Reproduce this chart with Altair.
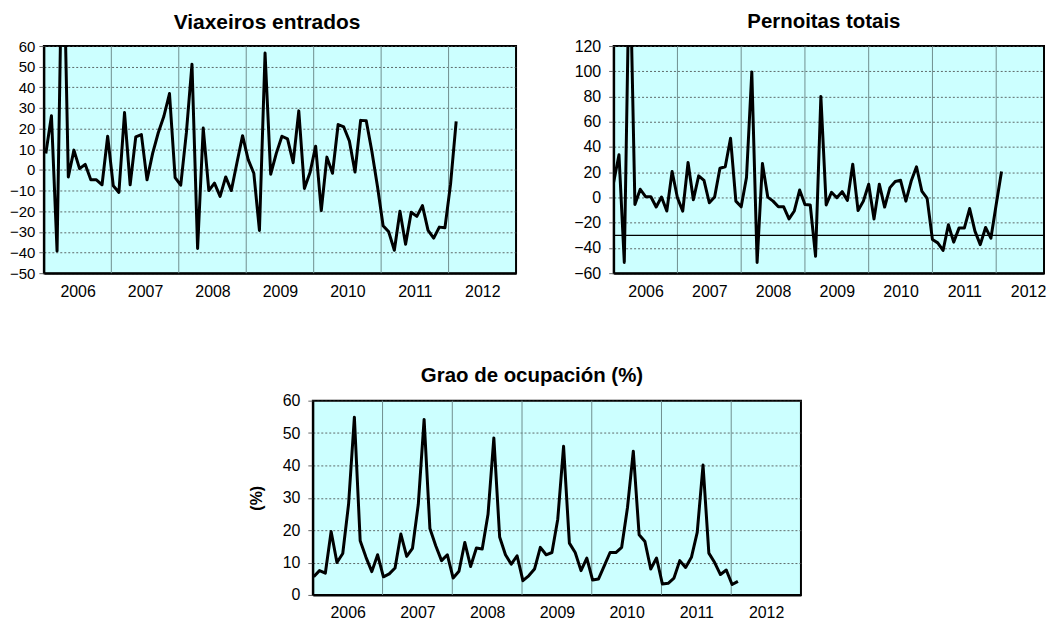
import json
import altair as alt
import pandas as pd

# ---------------- data (monthly, January 2006 - February 2012) ----------------
years = ["2006", "2007", "2008", "2009", "2010", "2011", "2012"]

viaxeiros = [8, 26.2, -39.3, 130, -3.4, 9.6, 0.6, 2.7, -4.8, -4.8, -7.2, 16.3,
             -7.7, -10.9, 27.8, -7.2, 16, 17.1, -4.8, 8, 18, 26, 37, -3.7,
             -7.4, 17.9, 51.2, -38, 20.3, -10, -6.4, -12.8, -3.4, -10, 3.5, 16.6,
             5, -1.6, -29.3, 56.6, -2.1, 8, 16.3, 15, 3.5, 28.6, -9, -1.3,
             11.5, -19.7, 6.2, -1.6, 22, 20.8, 14, -1, 24, 23.8, 9, -8,
             -27, -30, -38.9, -20, -36, -20.5, -22.5, -17.3, -29.3, -33, -27.7, -28,
             -6.9, 23.5]

pernoitas = [12, 33.8, -51.5, 200, -5.5, 6.5, 0.6, 0.6, -7.6, 0.3, -10.8, 20.6,
             -0.2, -10.8, 27.7, -1.8, 17.1, 13.6, -4.2, 0.3, 23.2, 24.3, 46.9, -2.9,
             -7.4, 15.8, 99.5, -51.5, 26.9, 0.3, -2.9, -7.4, -7.4, -17, -10.7, 5.9,
             -5.5, -6, -46.6, 80.1, -6, 4.1, -0.2, 4.6, -2.3, 26.4, -10.4, -2.9,
             10.5, -17, 10.5, -7.6, 7.8, 12.6, 13.6, -2.9, 13, 24.3, 5.1, -0.7,
             -33.4, -36, -42, -21.6, -35.4, -24.3, -24.3, -8.8, -26.7, -37.4, -23.8, -32.3,
             -5.5, 20.6]
pernoitas_ref = [-30]

ocupacion = [5.6, 7.5, 6.7, 19.6, 10, 12.8, 28, 54.9, 16.7, 11.6, 7.2, 12.4,
             5.6, 6.5, 8.3, 18.8, 11.9, 14.4, 28, 54.2, 20.5, 15.2, 10.6, 12.4,
             5.2, 7.3, 16.2, 8.8, 14.5, 14.2, 24.9, 48.5, 17.9, 12.4, 9.5, 12.1,
             4.4, 5.9, 8, 14.7, 12.4, 13.1, 23.4, 45.9, 16, 13.1, 7.5, 11.4,
             4.6, 4.9, 9, 13.1, 13.1, 14.7, 27, 44.4, 18.6, 16.5, 8, 11.4,
             3.4, 3.6, 5.2, 10.6, 8.5, 11.6, 19.3, 40.1, 12.9, 10, 6.3, 7.7,
             3.2, 4.2]

FONT = "Liberation Sans"
month = list(range(len(viaxeiros)))
label_pos = [12 * k + 6 for k in range(len(years))]
year_bounds = [12 * k for k in range(1, len(years))]
label_expr = json.dumps(years) + "[floor(datum.value / 12)]"


def panel(values, title, ydom, ystep, w, h, xmax, title_dx, title_offset,
          title_size=20.5, xoff=0.0, ytitle=None, hlines=None, lab=16,
          ylab=16, ylabpad=8):
    df = pd.DataFrame({"m": [i + xoff for i in month], "v": values})
    xenc = alt.X(
        "m:Q",
        scale=alt.Scale(domain=[0, xmax], nice=False, zero=False),
        axis=alt.Axis(values=[p for p in label_pos if p < xmax], labelExpr=label_expr,
                      grid=False, ticks=False, title=None, labelFontSize=lab,
                      labelPadding=10, domainColor="black", domainWidth=2,
                      labelColor="black", labelFont=FONT, labelFlush=False,
                      labelOverlap=False),
    )
    yaxis_kw = dict(values=list(range(ydom[0], ydom[1] + 1, ystep)), grid=True,
                    gridColor="#444444", gridDash=[2, 2], gridWidth=1, gridOpacity=0.8,
                    ticks=True, tickSize=5, tickColor="#666666", labelFontSize=ylab,
                    labelPadding=ylabpad, labelColor="black", labelFont=FONT,
                    domainColor="black", domainWidth=2, labelFlush=False,
                    labelOverlap=False)
    if ytitle:
        yaxis_kw.update(title=ytitle, titleFontSize=16, titleFont=FONT,
                        titleFontWeight="bold", titleColor="black", titlePadding=18)
    else:
        yaxis_kw.update(title=None)
    yenc = alt.Y("v:Q", scale=alt.Scale(domain=ydom, nice=False, zero=False),
                 axis=alt.Axis(**yaxis_kw))

    rules = alt.Chart(pd.DataFrame({"m": [b for b in year_bounds if b < xmax]})).mark_rule(
        color="#6f8f8f", strokeWidth=1).encode(x=xenc)
    layers = [rules]
    if hlines:
        layers.append(alt.Chart(pd.DataFrame({"v": hlines})).mark_rule(
            color="black", strokeWidth=1.2).encode(y=yenc))
    layers.append(alt.Chart(df).mark_line(color="black", strokeWidth=3, clip=True,
                                          strokeJoin="round").encode(x=xenc, y=yenc))
    return alt.layer(*layers).properties(
        width=w, height=h,
        title=alt.TitleParams(title, fontSize=title_size, fontWeight="bold", font=FONT,
                              color="black", anchor="middle", frame="group",
                              dx=title_dx, offset=title_offset),
    )


p1 = panel(viaxeiros, "Viaxeiros entrados", [-50, 60], 10, 474, 228, 84, -13, 6,
           title_size=21, xoff=0.35, ylab=15, ylabpad=4)
p2 = panel(pernoitas, "Pernoitas totais", [-60, 120], 20, 432, 228, 81, -5, 6,
           hlines=pernoitas_ref)
p3 = panel(ocupacion, "Grao de ocupación (%)", [0, 60], 10, 490, 195, 84, -25, 6,
           xoff=0.15, ytitle="(%)")

spacer = alt.Chart(pd.DataFrame({"s": [0]})).mark_point(opacity=0).encode(
    x=alt.X("s:Q", axis=None), y=alt.Y("s:Q", axis=None)
).properties(width=270, height=195,
             view=alt.ViewBackground(fill="transparent", stroke="transparent"))

top = alt.hconcat(p1, p2, spacing=98, bounds="flush")
bottom = alt.hconcat(spacer, p3, spacing=0, bounds="flush")

chart = alt.vconcat(top, bottom, spacing=65).properties(
    padding={"left": 0, "top": 1, "right": 0, "bottom": 0}
).configure(
    font=FONT, background="white"
).configure_view(
    fill="#CCFFFF", stroke="black", strokeWidth=2
)

chart.save("out.html", embed_options={"renderer": "svg", "actions": False})
